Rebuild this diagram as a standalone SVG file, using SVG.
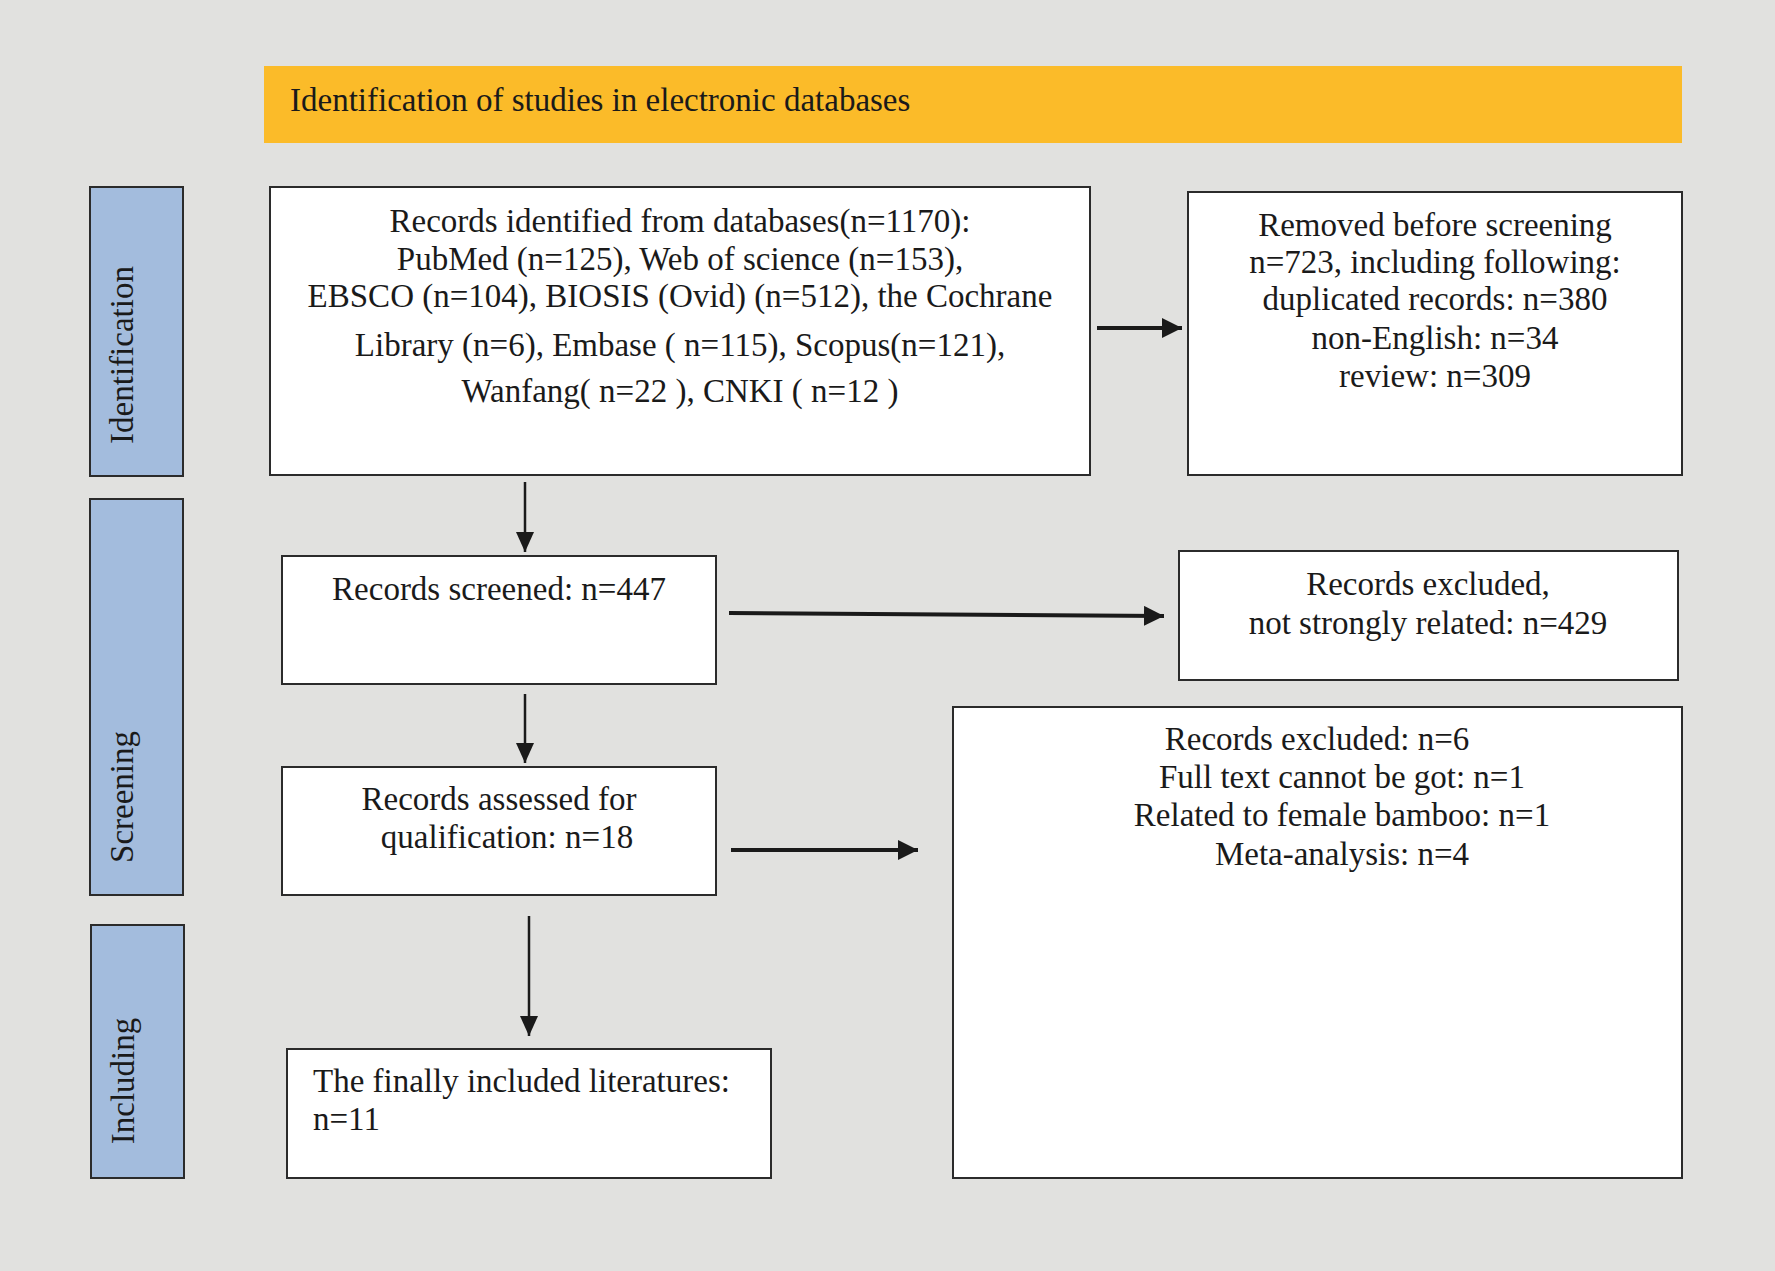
<svg xmlns="http://www.w3.org/2000/svg" width="1775" height="1271" viewBox="0 0 1775 1271">
<defs>
<marker id="ah" viewBox="0 0 20 20" refX="20" refY="10" markerWidth="20" markerHeight="20" markerUnits="userSpaceOnUse" orient="auto">
<path d="M0,0 L20,10 L0,20 Z" fill="#1a1a1a"/>
</marker>
<marker id="ahs" viewBox="0 0 20 20" refX="20" refY="10" markerWidth="20" markerHeight="20" markerUnits="userSpaceOnUse" orient="auto">
<path d="M0,1 L20,10 L0,19 Z" fill="#1a1a1a"/>
</marker>
</defs>
<style>
text{font-family:"Liberation Serif","Times New Roman",serif;font-size:33px;fill:#1a1a1a}
.box{fill:#ffffff;stroke:#2b2b2b;stroke-width:2}
.lab{fill:#a3bcdd;stroke:#2b2b2b;stroke-width:2}
.c{text-anchor:middle}
.thick{stroke:#1a1a1a;stroke-width:4;fill:none;marker-end:url(#ah)}
.thin{stroke:#1a1a1a;stroke-width:2.5;fill:none;marker-end:url(#ahs)}
</style>
<rect x="0" y="0" width="1775" height="1271" fill="#e1e1df"/>
<g id="title">
<rect x="264" y="66" width="1418" height="77" fill="#fbbb29"/>
<text x="290" y="111">Identification of studies in electronic databases</text>
</g>
<g id="label-identification">
<rect class="lab" x="90" y="187" width="93" height="289"/>
<text class="c" transform="translate(133,355) rotate(-90)">Identification</text>
</g>
<g id="label-screening">
<rect class="lab" x="90" y="499" width="93" height="396"/>
<text class="c" transform="translate(133,797) rotate(-90)">Screening</text>
</g>
<g id="label-including">
<rect class="lab" x="91" y="925" width="93" height="253"/>
<text class="c" transform="translate(134,1081) rotate(-90)">Including</text>
</g>
<g id="records-identified">
<rect class="box" x="270" y="187" width="820" height="288"/>
<text class="c" x="680" y="232">Records identified from databases(n=1170):</text>
<text class="c" x="680" y="270">PubMed (n=125), Web of science (n=153),</text>
<text class="c" x="680" y="307">EBSCO (n=104), BIOSIS (Ovid) (n=512), the Cochrane</text>
<text class="c" x="680" y="356">Library (n=6), Embase ( n=115), Scopus(n=121),</text>
<text class="c" x="680" y="402">Wanfang( n=22 ), CNKI ( n=12 )</text>
</g>
<g id="removed">
<rect class="box" x="1188" y="192" width="494" height="283"/>
<text class="c" x="1435" y="236">Removed before screening</text>
<text class="c" x="1435" y="273">n=723, including following:</text>
<text class="c" x="1435" y="310">duplicated records: n=380</text>
<text class="c" x="1435" y="349">non-English: n=34</text>
<text class="c" x="1435" y="387">review: n=309</text>
</g>
<g id="screened">
<rect class="box" x="282" y="556" width="434" height="128"/>
<text class="c" x="499" y="600">Records screened: n=447</text>
</g>
<g id="excluded-429">
<rect class="box" x="1179" y="551" width="499" height="129"/>
<text class="c" x="1428" y="595">Records excluded,</text>
<text class="c" x="1428" y="634">not strongly related: n=429</text>
</g>
<g id="assessed">
<rect class="box" x="282" y="767" width="434" height="128"/>
<text class="c" x="499" y="810">Records assessed for</text>
<text class="c" x="507" y="848">qualification: n=18</text>
</g>
<g id="excluded-6">
<rect class="box" x="953" y="707" width="729" height="471"/>
<text class="c" x="1317" y="750">Records excluded: n=6</text>
<text class="c" x="1342" y="788">Full text cannot be got: n=1</text>
<text class="c" x="1342" y="826">Related to female bamboo: n=1</text>
<text class="c" x="1342" y="865">Meta-analysis: n=4</text>
</g>
<g id="included">
<rect class="box" x="287" y="1049" width="484" height="129"/>
<text x="313" y="1092">The finally included literatures:</text>
<text x="313" y="1130">n=11</text>
</g>
<g id="connectors">
<line class="thin" x1="525" y1="482" x2="525" y2="552"/>
<line class="thick" x1="1097" y1="328" x2="1182" y2="328"/>
<line class="thick" x1="729" y1="613" x2="1164" y2="616"/>
<line class="thin" x1="525" y1="694" x2="525" y2="763"/>
<line class="thick" x1="731" y1="850" x2="918" y2="850"/>
<line class="thin" x1="529" y1="916" x2="529" y2="1036"/>
</g>
</svg>
